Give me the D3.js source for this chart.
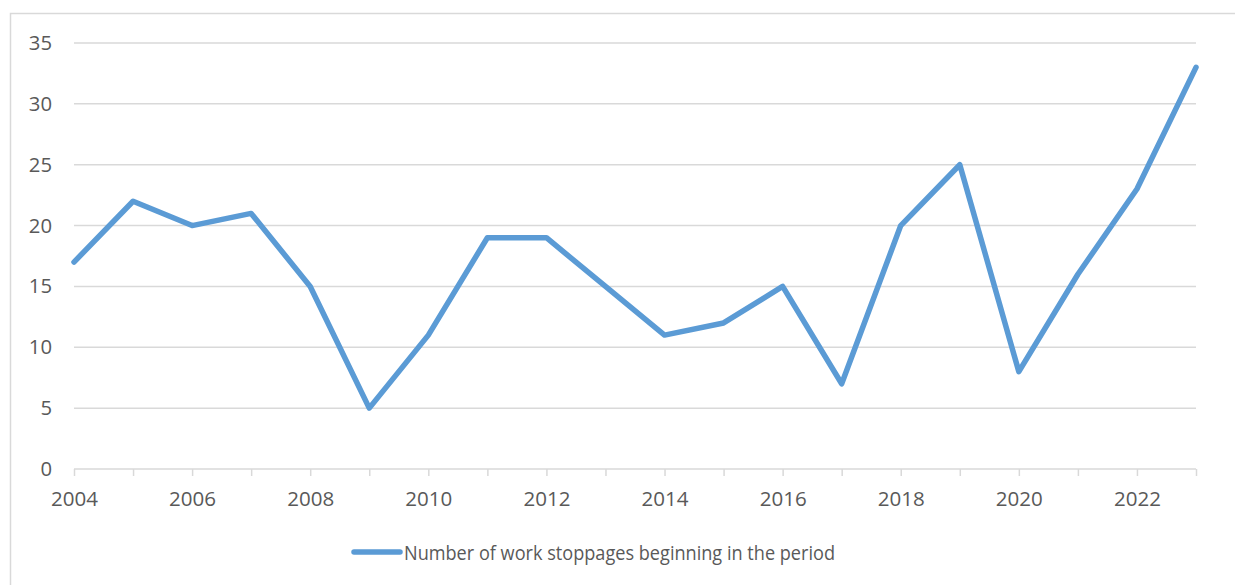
<!DOCTYPE html>
<html><head><meta charset="utf-8">
<script src="https://cdn.jsdelivr.net/npm/d3@7"></script>
<style>body{margin:0;background:#fff;} svg{display:block;}</style>
</head><body>
<svg id="c" width="1235" height="585"></svg>
<script>
const years = [2004,2005,2006,2007,2008,2009,2010,2011,2012,2013,2014,2015,2016,2017,2018,2019,2020,2021,2022,2023];
const stoppages = [17,22,20,21,15,5,11,19,19,15,11,12,15,7,20,25,8,16,23,33];
const yTicks = [0,5,10,15,20,25,30,35];
const xLabelYears = [2004,2006,2008,2010,2012,2014,2016,2018,2020,2022];
const seriesName = "Number of work stoppages beginning in the period";

const svg = d3.select("#c");
const font = "'Open Sans', sans-serif";
const textColor = "#595959";

svg.append("rect").attr("x",10.5).attr("y",13.5).attr("width",1240).attr("height",600)
  .attr("fill","#fff").attr("stroke","#d9d9d9").attr("stroke-width",1.5);

const x = d3.scaleLinear().domain([2004,2023]).range([74,1196]);
const y = d3.scaleLinear().domain([0,35]).range([469,43]);

// gridlines
svg.append("g").selectAll("line").data(yTicks.filter(d=>d>0)).join("line")
  .attr("x1",74).attr("x2",1196).attr("y1",d=>y(d)).attr("y2",d=>y(d))
  .attr("stroke","#d9d9d9").attr("stroke-width",1.5);

// y axis labels
const yAxis = svg.append("g").attr("transform","translate(74,0)")
  .call(d3.axisLeft(y).tickValues(yTicks).tickSize(0).tickPadding(22));
yAxis.select(".domain").remove();
yAxis.selectAll("text").attr("font-family",font).attr("font-size",20.5).attr("fill",textColor)
  .attr("textLength", d => String(d).length * 11.6).attr("lengthAdjust","spacingAndGlyphs");

// x axis
const xAxis = svg.append("g").attr("transform","translate(0,469)")
  .call(d3.axisBottom(x).tickValues(years).tickSize(7).tickPadding(15)
    .tickFormat(d => xLabelYears.includes(d) ? String(d) : ""));
xAxis.select(".domain").attr("stroke","#d9d9d9").attr("stroke-width",1.5).attr("d","M74,0H1196");
xAxis.selectAll(".tick line").attr("stroke","#d9d9d9").attr("stroke-width",1.5);
xAxis.selectAll("text").attr("font-family",font).attr("font-size",20.5).attr("fill",textColor)
  .filter(d => xLabelYears.includes(d))
  .attr("textLength",47).attr("lengthAdjust","spacingAndGlyphs");

// line
const line = d3.line().x((d,i)=>x(years[i])).y(d=>y(d));
svg.append("path").datum(stoppages).attr("d",line)
  .attr("fill","none").attr("stroke","#5b9bd5").attr("stroke-width",5.5)
  .attr("stroke-linejoin","round").attr("stroke-linecap","round");

// legend
svg.append("line").attr("x1",354).attr("x2",400).attr("y1",552).attr("y2",552)
  .attr("stroke","#5b9bd5").attr("stroke-width",5.5).attr("stroke-linecap","round");
svg.append("text").attr("x",404).attr("y",560).text(seriesName)
  .attr("font-family",font).attr("font-size",20.5).attr("fill",textColor)
  .attr("textLength",431).attr("lengthAdjust","spacingAndGlyphs");
</script>
</body></html>
